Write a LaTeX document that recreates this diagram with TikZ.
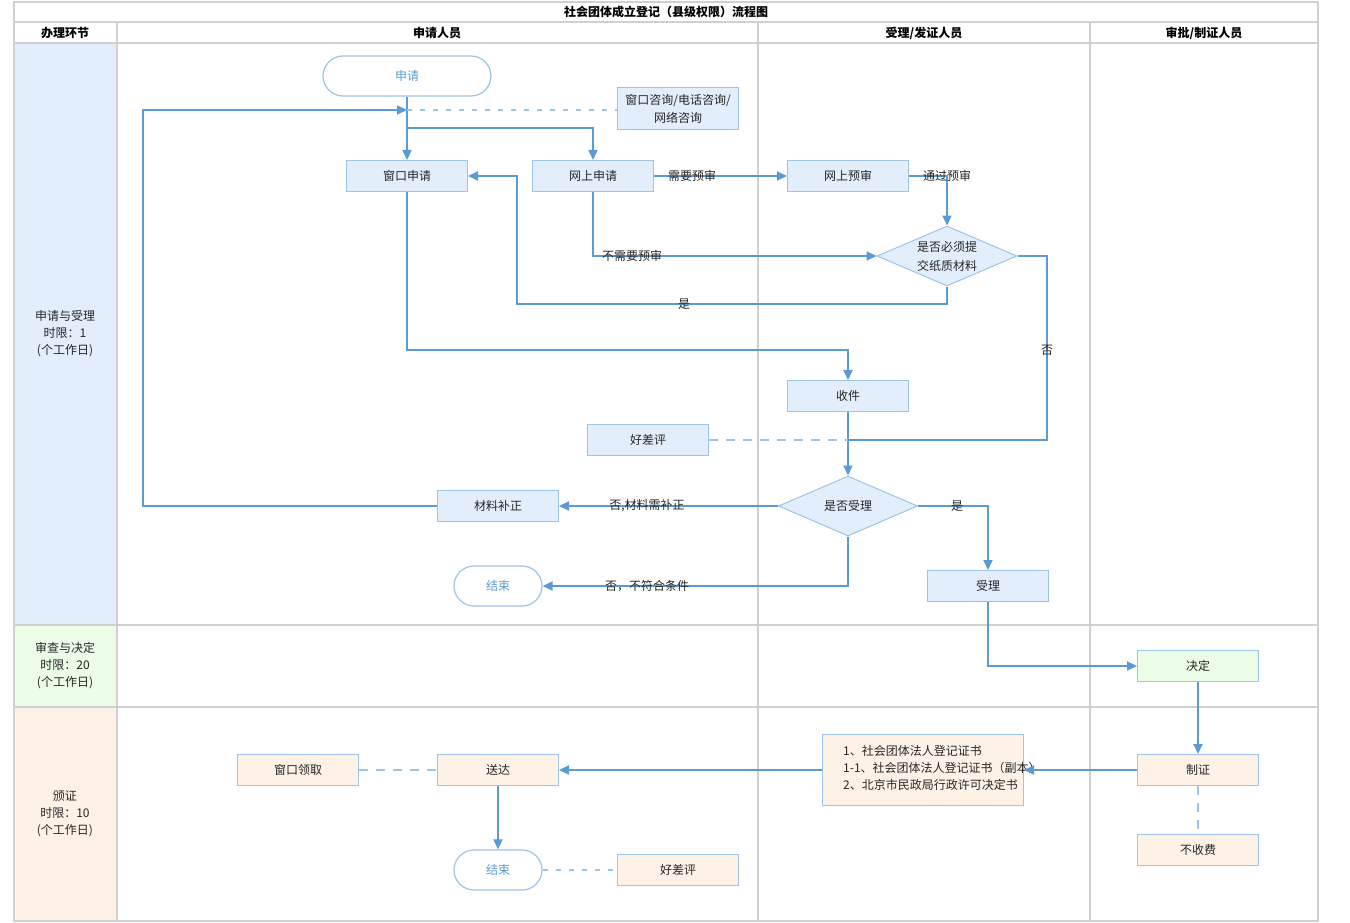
\documentclass[tikz,border=0pt]{standalone}
\usepackage{fontspec}
\setmainfont{Noto Sans CJK SC}
\usetikzlibrary{shapes.geometric,arrows.meta,calc}
\definecolor{lineblue}{HTML}{5B9BD5}
\definecolor{edgeblue}{HTML}{9DC3E6}
\definecolor{termblue}{HTML}{5B9BD5}
\definecolor{fillblue}{HTML}{E3EEFD}
\definecolor{fillgreen}{HTML}{EBFDE6}
\definecolor{fillorange}{HTML}{FEF2E6}
\definecolor{gridgray}{HTML}{D0D0D0}
\definecolor{txt}{HTML}{262626}
\begin{document}
\begin{tikzpicture}[x=1pt,y=-1pt,
  every node/.style={font=\fontsize{12}{14}\selectfont, text=txt},
  box/.style={draw=edgeblue, line width=1pt, fill=fillblue, minimum width=121pt, minimum height=31pt, inner sep=0pt},
  obox/.style={box, fill=fillorange},
  gbox/.style={box, fill=fillgreen},
  term/.style={draw=edgeblue, line width=1.2pt, fill=white, rounded corners=20pt, minimum height=40pt, inner sep=0pt, text=termblue},
  dec/.style={diamond, draw=edgeblue, line width=1pt, fill=fillblue, inner sep=0pt, aspect=2.33, minimum width=140pt, minimum height=60pt, align=center},
  flow/.style={draw=lineblue, line width=1.8pt, -{Triangle[length=10pt,width=9pt]}},
  plainlink/.style={draw=lineblue, line width=1.8pt},
  dashlink/.style={draw=edgeblue, line width=1.8pt, dash pattern=on 9pt off 8pt},
  shortdash/.style={draw=edgeblue, line width=1.8pt, dash pattern=on 5pt off 8pt},
  lbl/.style={inner sep=0pt},
  head/.style={font=\bfseries\fontsize{12}{14}\selectfont, text=black},
  lane/.style={align=center, font=\fontsize{12}{17}\selectfont},
  grid/.style={draw=gridgray, line width=2pt}
]
\useasboundingbox (0,0) rectangle (1350,923);
\fill[white] (0,0) rectangle (1350,923);
% lane fills
\fill[fillblue] (14,43) rectangle (117,625);
\fill[fillgreen] (14,625) rectangle (117,707);
\fill[fillorange] (14,707) rectangle (117,921);
% grid
\draw[grid] (14,2) rectangle (1318,921);
\foreach \yy in {22,43,625,707} \draw[grid] (14,\yy) -- (1318,\yy);
\foreach \xx in {117,758,1090} \draw[grid] (\xx,22) -- (\xx,921);
% headers
\node[head] (title) at (666,12) {社会团体成立登记（县级权限）流程图};
\node[head] (h1) at (65,33) {办理环节};
\node[head] (h2) at (437,33) {申请人员};
\node[head] (h3) at (924,33) {受理/发证人员};
\node[head] (h4) at (1204,33) {审批/制证人员};
\node[lane] (lane1) at (65,334) {申请与受理\\时限：1\\(个工作日)};
\node[lane] (lane2) at (65,666) {审查与决定\\时限：20\\(个工作日)};
\node[lane] (lane3) at (65,814) {颁证\\时限：10\\(个工作日)};
% nodes
\node[term, minimum width=168pt] (start) at (407,76) {申请};
\node[box, minimum height=42pt, align=center, font=\fontsize{12}{18}\selectfont] (consult) at (678,109) {窗口咨询/电话咨询/\\网络咨询};
\node[box] (win) at (407,176) {窗口申请};
\node[box] (web) at (593,176) {网上申请};
\node[box] (pre) at (848,176) {网上预审};
\node[dec, font=\fontsize{12}{19}\selectfont] (paper) at (947,256) {是否必须提\\交纸质材料};
\node[box] (recv) at (848,396) {收件};
\node[box] (eval1) at (648,440) {好差评};
\node[dec, minimum width=139pt] (accept) at (848,506) {是否受理};
\node[box] (fix) at (498,506) {材料补正};
\node[term, minimum width=88pt] (end1) at (498,586) {结束};
\node[box] (acc) at (988,586) {受理};
\node[gbox] (decide) at (1198,666) {决定};
\node[obox] (make) at (1198,770) {制证};
\node[obox] (free) at (1198,850) {不收费};
\node[obox, minimum width=201pt, minimum height=71pt] (docs) at (923,770) {};
\node[anchor=west, align=left, inner sep=0pt, font=\fontsize{12}{17}\selectfont] (doctext) at (843,768) {1、社会团体法人登记证书\\1-1、社会团体法人登记证书（副本）\\2、北京市民政局行政许可决定书};
\node[obox] (deliver) at (498,770) {送达};
\node[obox] (pickup) at (298,770) {窗口领取};
\node[term, minimum width=88pt] (end2) at (498,870) {结束};
\node[obox] (eval2) at (678,870) {好差评};
% junction coordinates
\coordinate (j1) at (start.south |- 0,110);
\coordinate (j2) at (407,128);
\coordinate (loopturn) at (143,110);
\coordinate (yesturn) at (517,304);
\coordinate (nocorner) at (1047,440);
\coordinate (merge) at (recv.south |- eval1.east);
\coordinate (wturn) at (848,350);
% connectors
\draw[flow] (start) -- (win);
\draw[flow] (j2) -| (web.north);
\draw[flow] (fix.west) -| (loopturn) -- (j1);
\draw[shortdash] (j1) -- (consult.west |- j1);
\draw[flow] (web) -- (pre);
\draw[flow] (pre.east) -| (paper.north);
\draw[flow] (web.south) |- (paper.west);
\draw[flow] (paper.south) |- (yesturn) |- (win.east);
\draw[plainlink] (paper.east) -| (nocorner) -- (merge);
\draw[flow] (win.south) |- (wturn) -- (recv.north);
\draw[flow] (recv) -- (accept);
\draw[dashlink] (eval1.east) -- (merge);
\draw[flow] (accept.west) -- (fix.east);
\draw[flow] (accept.south) |- (end1.east);
\draw[flow] (accept.east) -| (acc.north);
\draw[flow] (acc.south) |- (decide.west);
\draw[flow] (decide) -- (make);
\draw[flow] (make.west) -- (docs.east);
\draw[flow] (docs.west) -- (deliver.east);
\draw[dashlink] (pickup.east) -- (deliver.west);
\draw[flow] (deliver) -- (end2);
\draw[shortdash] (end2.east) -- (eval2.west);
\draw[dashlink] (make.south) -- (free.north);
% labels
\node[lbl] (l1) at (692,176) {需要预审};
\node[lbl] (l2) at (947,176) {通过预审};
\node[lbl] (l3) at (632,256) {不需要预审};
\node[lbl] (l4) at (684,304) {是};
\node[lbl] (l5) at (1047,350) {否};
\node[lbl] (l6) at (647,506) {否,材料需补正};
\node[lbl] (l7) at (647,586) {否，不符合条件};
\node[lbl] (l8) at (957,506) {是};
\end{tikzpicture}
\end{document}
